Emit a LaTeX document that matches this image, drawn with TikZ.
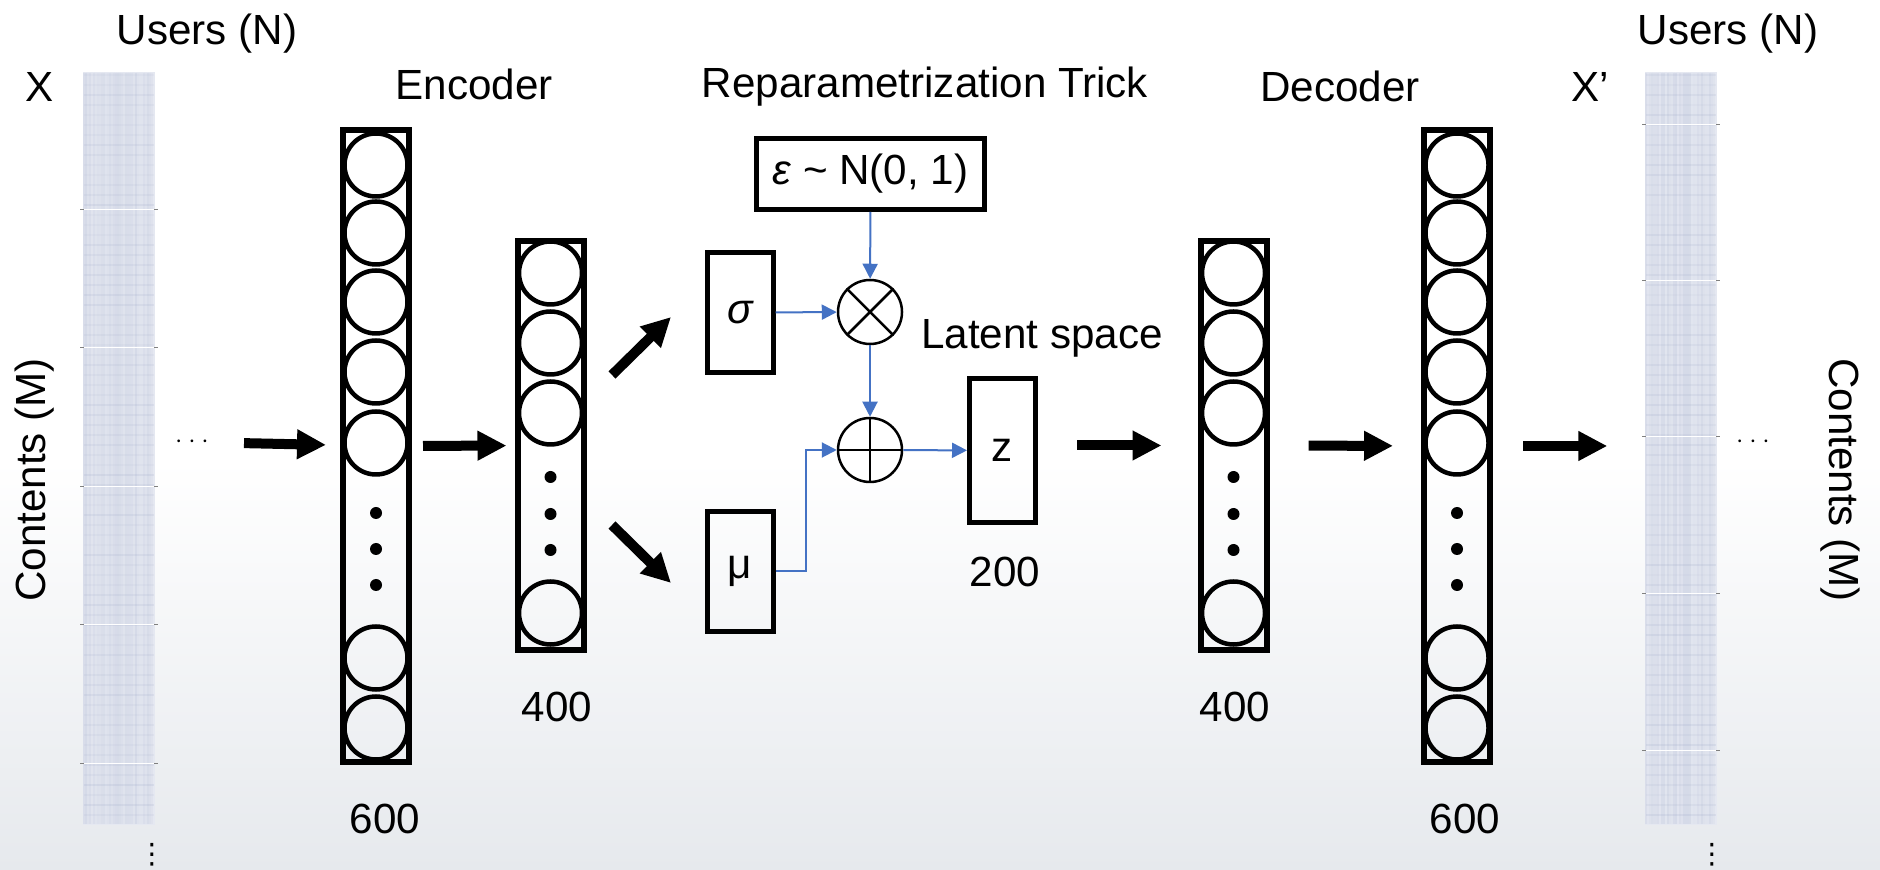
\documentclass[tikz,border=0pt]{standalone}
\usepackage{fontspec}
\setmainfont{Liberation Sans}
\newfontfamily\dotsfont{DejaVu Sans}
\usetikzlibrary{arrows.meta}

\definecolor{linkblue}{RGB}{68,114,196}
\definecolor{matfill}{RGB}{229,232,241}
\definecolor{matline}{RGB}{150,162,196}
\definecolor{bggray}{RGB}{230,233,237}

\tikzset{
  lbl/.style={font=\fontsize{12}{14}\selectfont, inner sep=0pt, anchor=base},
  sidelbl/.style={font=\fontsize{12}{14}\selectfont, inner sep=0pt},
  layerbox/.style={draw, line width=0.06cm, minimum width=0.66cm, inner sep=0pt},
  neuron/.style={circle, draw, line width=0.045cm, minimum size=0.63cm, inner sep=0pt},
  varbox/.style={draw, line width=0.05cm, minimum width=0.66cm, inner sep=0pt,
    font=\fontsize{12}{14}\selectfont},
  opnode/.style={circle, draw, line width=0.025cm, minimum size=0.64cm, inner sep=0pt},
  matrixbar/.style={fill=matfill, minimum width=0.72cm, minimum height=7.53cm, inner sep=0pt},
  smalldots/.style={font=\fontsize{7}{7}\selectfont, inner sep=0pt},
  tallDots/.style={font=\dotsfont\fontsize{8}{8}\selectfont, inner sep=0pt},
  bigarrow/.style={line width=0.1cm, -{Triangle[length=0.29cm,width=0.28cm]}},
  link/.style={linkblue, line width=0.02cm, -{Triangle[length=0.15cm,width=0.15cm]}}
}

\begin{document}
\begin{tikzpicture}

  % background
  \fill[white] (0,0) rectangle (18.8,-8.7);
  \shade[top color=white, bottom color=bggray] (0,-4.6) rectangle (18.8,-8.7);
  \useasboundingbox (0,0) rectangle (18.8,-8.7);

  % input and output matrices
  \node[matrixbar] (matL) at (1.19,-4.485) {};
  \node[matrixbar] (matR) at (16.81,-4.485) {};
  \pgfmathsetseed{11}
  \foreach \mx in {0.84,16.46} {
    \foreach \k in {0,...,34} {
      \pgfmathsetmacro\op{0.04+0.16*rnd}
      \draw[matline, opacity=\op, line width=0.02cm] (\mx+\k*0.02,-0.73) -- ++(0,-7.51);
    }
    \foreach \k in {0,...,74} {
      \pgfmathsetmacro\op{0.05+0.12*rnd}
      \draw[matline, opacity=\op, line width=0.015cm] (\mx,-0.75-\k*0.1) -- ++(0.70,0);
    }
  }
  \foreach \y in {2.10,3.48,4.87,6.25,7.63} {
    \draw[white, line width=0.01cm] (0.83,-\y) -- (1.55,-\y);
    \draw[gray, line width=0.01cm] (0.80,-\y) -- (0.84,-\y) (1.54,-\y) -- (1.58,-\y);
  }
  \foreach \y in {1.25,2.81,4.37,5.94,7.50} {
    \draw[white, line width=0.01cm] (16.45,-\y) -- (17.17,-\y);
    \draw[gray, line width=0.01cm] (16.42,-\y) -- (16.46,-\y) (17.16,-\y) -- (17.20,-\y);
  }

  \node[lbl] (usersL) at (2.07,-0.45) {Users (N)};
  \node[lbl] (xL) at (0.40,-1.02) {X};
  \node[sidelbl, rotate=90] (contL) at (0.35,-4.80) {Contents (M)};
  \node[smalldots] (dotsL) at (1.92,-4.42) {$\cdots$};
  \node[tallDots] (vdotsL) at (1.52,-8.55) {⋮};

  \node[lbl] (usersR) at (17.28,-0.45) {Users (N)};
  \node[lbl] (xR) at (15.90,-1.02) {X’};
  \node[sidelbl, rotate=-90] (contR) at (18.40,-4.80) {Contents (M)};
  \node[smalldots] (dotsR) at (17.53,-4.42) {$\cdots$};
  \node[tallDots] (vdotsR) at (17.12,-8.55) {⋮};

  % encoder
  \node[lbl] (enclbl) at (4.74,-1.00) {Encoder};
  \node[layerbox, minimum height=6.32cm] (enc6) at (3.76,-4.46) {};
  \foreach \y [count=\i] in {1.65,2.33,3.02,3.72,4.43,6.58,7.28}
    \node[neuron] (enc6-\i) at (3.76,-\y) {};
  \foreach \y in {5.13,5.49,5.85} \fill (3.76,-\y) circle (0.06);
  \node[lbl] (enc6n) at (3.85,-8.33) {600};

  \node[layerbox, minimum height=4.09cm] (enc4) at (5.505,-4.455) {};
  \foreach \y [count=\i] in {2.73,3.43,4.13,6.13}
    \node[neuron] (enc4-\i) at (5.505,-\y) {};
  \foreach \y in {4.77,5.14,5.50} \fill (5.505,-\y) circle (0.06);
  \node[lbl] (enc4n) at (5.57,-7.22) {400};

  % reparametrization trick
  \node[lbl] (replbl) at (9.25,-0.98) {Reparametrization Trick};
  \node[varbox, minimum width=2.28cm, minimum height=0.71cm] (eps) at (8.705,-1.74)
    {{\itshape ε} \textasciitilde{} N(0, 1)};
  \node[varbox, minimum height=1.20cm] (sigma) at (7.40,-3.125) {\itshape σ};
  \node[varbox, minimum height=1.20cm] (mu) at (7.40,-5.715) {μ};
  \node[opnode] (mul) at (8.70,-3.12) {};
  \node[opnode] (add) at (8.70,-4.50) {};
  \draw[line width=0.025cm] (mul.north west) -- (mul.south east) (mul.north east) -- (mul.south west);
  \draw[line width=0.025cm] (add.north) -- (add.south) (add.west) -- (add.east);
  \node[varbox, minimum height=1.44cm] (z) at (10.025,-4.505) {z};
  \node[lbl] (latlbl) at (10.42,-3.49) {Latent space};
  \node[lbl] (zn) at (10.05,-5.87) {200};

  \draw[link] (eps) -- (mul);
  \draw[link] (sigma) -- (mul);
  \draw[link] (mul) -- (add);
  \draw[link] (mu.east) -- ++(0.30,0) |- (add.west);
  \draw[link] (add) -- (z);

  % decoder
  \node[lbl] (declbl) at (13.40,-1.02) {Decoder};
  \node[layerbox, minimum height=4.09cm] (dec4) at (12.335,-4.455) {};
  \foreach \y [count=\i] in {2.73,3.43,4.13,6.13}
    \node[neuron] (dec4-\i) at (12.335,-\y) {};
  \foreach \y in {4.77,5.14,5.50} \fill (12.335,-\y) circle (0.06);
  \node[lbl] (dec4n) at (12.35,-7.22) {400};

  \node[layerbox, minimum height=6.32cm] (dec6) at (14.57,-4.46) {};
  \foreach \y [count=\i] in {1.65,2.33,3.02,3.72,4.43,6.58,7.28}
    \node[neuron] (dec6-\i) at (14.57,-\y) {};
  \foreach \y in {5.13,5.49,5.85} \fill (14.57,-\y) circle (0.06);
  \node[lbl] (dec6n) at (14.65,-8.33) {600};

  % flow arrows
  \coordinate (toSigA) at (6.12,-3.75);
  \coordinate (toSigB) at (6.71,-3.17);
  \coordinate (toMuA) at (6.12,-5.25);
  \coordinate (toMuB) at (6.71,-5.83);
  \draw[bigarrow, shorten <=0.34cm, shorten >=0.14cm] (dotsL) -- (enc6);
  \draw[bigarrow, shorten <=0.11cm, shorten >=0.08cm] (enc6) -- (enc4);
  \draw[bigarrow] (toSigA) -- (toSigB);
  \draw[bigarrow] (toMuA) -- (toMuB);
  \draw[bigarrow, shorten <=0.39cm, shorten >=0.36cm] (z.east |- enc4.east) -- (dec4);
  \draw[bigarrow, shorten <=0.39cm, shorten >=0.28cm] (dec4) -- (dec6);
  \draw[bigarrow, shorten <=0.30cm, shorten >=0.37cm] (dec6) -- (matR.west |- dec6.east);

\end{tikzpicture}
\end{document}
